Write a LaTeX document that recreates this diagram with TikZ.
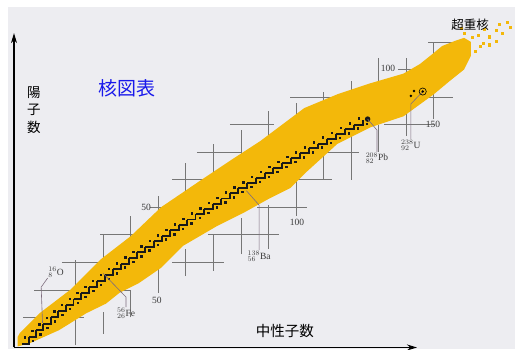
\documentclass[tikz,border=0pt]{standalone}
\usepackage{fontspec}
\newfontfamily\jpfont{Noto Sans CJK JP}
\newfontfamily\numfont{Liberation Serif}
\usetikzlibrary{arrows.meta}
\definecolor{bggray}{RGB}{237,237,241}
\definecolor{bandyellow}{RGB}{243,184,10}
\definecolor{gridgray}{RGB}{118,118,118}
\definecolor{leadgray}{RGB}{125,108,125}
\definecolor{numgray}{RGB}{60,60,60}
\definecolor{titleblue}{RGB}{25,25,235}
\tikzset{
    gridline/.style = {gridgray, line width=0.8pt},
    leader/.style = {leadgray, line width=0.6pt},
    axisline/.style = {black, line width=1.1pt, -{Stealth[length=10pt,width=6pt]}},
    numlabel/.style = {font=\numfont\fontsize{9.5}{9.5}\selectfont, text=numgray, inner sep=0.5pt},
    nuclabel/.style = {font=\numfont\fontsize{9.5}{9.5}\selectfont, text=numgray, inner sep=0.5pt},
    jplabel/.style = {font=\jpfont\fontsize{13.5}{17.5}\selectfont, inner sep=0pt},
    stairline/.style = {black!90, line width=1.9pt, line join=miter},
    nuclide/.style = {fill=black!90},
}
\begin{document}
\begin{tikzpicture}[x=2.755pt, y=2.755pt]
\useasboundingbox (-7.44,-1.45) rectangle (179.49,125.23);
\fill[bggray] (-4.54,-1.45) rectangle (179.49,122.7);
% grid crosses (Z rows, N columns)
\foreach \z/\a/\b in {10/1/23, 20/5/40, 30/15/28, 30/55/74, 40/29/42, 40/68/94,
    50/47/54, 50/86/104, 60/55/67, 60/96/113, 70/64/80, 70/108/123, 80/76/92,
    80/132/150, 90/98/120, 90/146/157, 100/137/144, 110/148/160}
    \draw[gridline] (\a,\z) -- (\b,\z);
\foreach \n/\a/\b in {20/0/31, 30/4/12, 30/28/40, 40/10/20, 40/36/47, 50/19/29,
    50/48/54, 60/25/35, 60/55/66, 70/27/40, 70/60/73, 80/33/46, 80/67/78,
    90/35/51, 90/76/85, 100/47/62, 100/79/88, 110/60/70, 110/83/92, 120/60/77,
    120/88/96, 130/70/80, 130/94/104, 140/76/84, 140/97/104, 150/82/91, 150/102/110}
    \draw[gridline] (\n,\a) -- (\n,\b);
% band of known nuclides
\fill[bandyellow] (-1,3) -- (-0.2,4.4) -- (7,11.6) -- (18,20) -- (29,31) -- (40,39.5)
    -- (51,50) -- (65,59.5) -- (77,67.5) -- (87,74) -- (95,80) -- (103,86) -- (115,91)
    -- (127,95) -- (139,98.5) -- (145,102) -- (150,106) -- (153,108.5) -- (158,110.5)
    -- (161,111.5) -- (163.5,110) -- (163.5,105) -- (161,100) -- (156,96) -- (150,91)
    -- (139,83) -- (127,79) -- (115,73) -- (104,63) -- (98,57) -- (90,53) -- (81,48)
    -- (71,43) -- (59,36) -- (51,28) -- (43,22.5) -- (36,19) -- (31,15) -- (24,11.6)
    -- (14,5.4) -- (3.5,0.7) -- (-1,-0.5) -- cycle;
% superheavy
\foreach \p in {(161.3,113),(163.9,111.5),(166.1,112.5),(167.9,109.6),(170.4,111.8),
    (172.9,114.3),(174,116.2),(175.1,113.2),(176.6,116.9),(177.7,115.1),(170.4,108.9),
    (166.8,108.2),(165,106.5),(168.5,114.5),(172.9,110),(160,115)}
    \fill[bandyellow] \p ++(-0.55,-0.55) rectangle ++(1.1,1.1);
% stable nuclides
\foreach \A [remember=\A as \Ap (initially 1)] in {6,11,...,206} {
    \pgfmathsetmacro\za{\Ap/(1.98+0.0155*\Ap^(2/3))}
    \pgfmathsetmacro\na{\Ap-\za}
    \pgfmathsetmacro\zb{\A/(1.98+0.0155*\A^(2/3))}
    \pgfmathsetmacro\nb{\A-\zb}
    \draw[stairline] (\na,\za) -| (\nb,\zb);
    \fill[nuclide] (\nb-1.8,\za+1.7) rectangle ++(0.9,0.9);
    \fill[nuclide] (\nb+1.1,\zb-1.9) rectangle ++(0.9,0.9);
}
\fill[nuclide] (126,82) circle (1);
% axes
\coordinate (orig) at (-2.36,-0.9);
\coordinate (ytip) at (-2.36,113.2);
\coordinate (xtip) at (143.9,-0.9);
\draw[axisline] (orig) -- (ytip);
\draw[axisline] (orig) -- (xtip);
% texts
\node[font=\jpfont\fontsize{19}{19}\selectfont, text=titleblue] (title) at (38.66,93.28) {核図表};
\node[jplabel, align=center] (zlabel) at (4.9,85.3) {陽\\子\\数};
\node[jplabel, font=\jpfont\fontsize{14.5}{14.5}\selectfont] (nlabel) at (96,5.08) {中性子数};
\node[jplabel, font=\jpfont\fontsize{12.5}{12.5}\selectfont] (superheavy) at (163.2,116.2) {超重核};
\node[numlabel] (z50) at (45.6,50.1) {50};
\node[numlabel] (z100) at (133.4,100.5) {100};
\node[numlabel] (n50) at (49.5,16.3) {50};
\node[numlabel] (n100) at (100.4,44.6) {100};
\node[numlabel] (n150) at (149.7,79.9) {150};
% marked nuclides
\coordinate (O) at (8,8);
\coordinate (Fe) at (30,26);
\coordinate (Ba) at (82,56);
\coordinate (Pb) at (126,82);
\coordinate (U) at (146,92);
\node[nuclabel] (o16) at (12.9,26.5) {${}^{16}_{8}$O};
\node[nuclabel] (fe56) at (38.3,11.6) {${}^{56}_{26}$Fe};
\node[nuclabel] (ba138) at (86.6,32.3) {${}^{138}_{56}$Ba};
\node[nuclabel] (pb208) at (129.4,67.9) {${}^{208}_{82}$Pb};
\node[nuclabel] (u238) at (141.7,72.6) {${}^{238}_{92}$U};
\draw[leader] (o16.south west) -- (7.5,21) -- (O);
\draw[leader] (Fe) -- (38.3,17.4) -- (fe56.north);
\draw[leader] (Ba) -- (86.6,50.8) -- (ba138.north);
\draw[leader] (Pb) -- (129.4,78) -- (pb208.north);
\draw[leader] (U) -- (141.7,87.5) -- (u238.north);
\draw[black, line width=0.6pt] (U) circle (1.3);
\fill[black] (U) circle (0.5) (142.8,92.2) circle (0.5) (141.7,90.4) circle (0.5);
\end{tikzpicture}
\end{document}
